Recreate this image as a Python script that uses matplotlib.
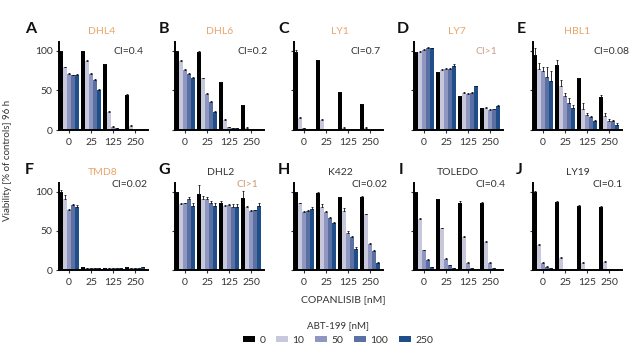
import matplotlib
matplotlib.use("Agg")
import matplotlib.pyplot as plt
import numpy as np
from matplotlib.patches import Patch

plt.rcParams["font.family"] = ["Lato", "DejaVu Sans"]

# ABT-199 doses (legend) and copanlisib doses (x groups)
abt_doses = ["0", "10", "50", "100", "250"]
copan_doses = ["0", "25", "125", "250"]
bar_colors = ["#000000", "#c8c8dc", "#8f97c0", "#5a70a2", "#1f4e88"]

# viability [% of controls], rows = copanlisib dose, cols = ABT-199 dose
DHL4 = [[100, 79, 71, 69, 70], [100, 87, 71, 63, 51], [83, 23, 4, 2, 1], [44, 5, 0, 0, 0]]
DHL6 = [[100, 87, 76, 71, 66], [99, 65, 46, 35, 23], [60, 13, 4, 2, 2], [31, 3, 1, 1, 1]]
LY1 = [[98, 15, 2, 0, 0], [88, 13, 1, 0, 0], [48, 3, 0, 0, 0], [33, 3, 0, 0, 0]]
LY7 = [[98, 99, 101, 104, 103], [73, 76, 77, 77, 81], [43, 47, 46, 47, 55], [28, 28, 25, 26, 30]]
HBL1 = [[94, 77, 74, 67, 62], [82, 55, 43, 34, 28], [65, 26, 19, 16, 11], [42, 18, 11, 11, 6]]
TMD8 = [[99, 90, 77, 83, 80], [4, 3, 2, 2, 2], [3, 2, 3, 2, 2], [4, 3, 3, 3, 4]]
DHL2 = [[100, 84, 85, 90, 82], [97, 91, 90, 86, 82], [85, 82, 83, 81, 81], [92, 81, 75, 76, 82]]
K422 = [[100, 85, 74, 75, 78], [98, 81, 74, 66, 60], [93, 75, 47, 42, 27], [93, 71, 33, 24, 9]]
TOLEDO = [[99, 65, 25, 13, 4], [90, 53, 14, 6, 2], [86, 42, 9, 3, 1], [85, 36, 9, 3, 1]]
LY19 = [[99, 32, 9, 4, 2], [87, 15, 1, 1, 0], [82, 9, 0, 0, 0], [81, 10, 0, 0, 0]]

# upper error bars
DHL4_err = [[0, 1, 1, 1, 1], [0, 1, 1, 1, 1], [0, 1, 1, 0, 0], [1, 1, 0, 0, 0]]
DHL6_err = [[0, 1, 1, 1, 1], [1, 1, 1, 1, 1], [1, 1, 0, 0, 0], [1, 1, 0, 0, 0]]
LY1_err = [[3, 1, 0, 0, 0], [0, 1, 0, 0, 0], [0, 1, 0, 0, 0], [0, 1, 0, 0, 0]]
LY7_err = [[0, 1, 1, 1, 1], [0, 1, 1, 1, 2], [0, 1, 1, 1, 1], [0, 1, 1, 1, 1]]
HBL1_err = [[10, 8, 6, 12, 12], [6, 8, 4, 6, 4], [1, 8, 3, 2, 1], [2, 3, 3, 2, 3]]
TMD8_err = [[3, 6, 1, 1, 3], [0, 0, 0, 0, 0], [0, 0, 0, 0, 0], [0, 0, 0, 0, 0]]
DHL2_err = [[0, 1, 1, 3, 3], [12, 3, 3, 2, 4], [3, 1, 1, 3, 3], [9, 1, 1, 1, 4]]
K422_err = [[0, 1, 1, 1, 3], [1, 3, 1, 1, 1], [0, 4, 3, 1, 2], [1, 1, 2, 1, 1]]
TOLEDO_err = [[1, 1, 1, 1, 0], [1, 1, 1, 0, 0], [2, 1, 1, 0, 0], [2, 1, 1, 0, 0]]
LY19_err = [[2, 1, 1, 1, 0], [1, 1, 0, 0, 0], [1, 1, 0, 0, 0], [1, 1, 0, 0, 0]]

panel_letters = ["A", "B", "C", "D", "E", "F", "G", "H", "I", "J"]
cell_lines = ["DHL4", "DHL6", "LY1", "LY7", "HBL1", "TMD8", "DHL2", "K422", "TOLEDO", "LY19"]
panel_values = [DHL4, DHL6, LY1, LY7, HBL1, TMD8, DHL2, K422, TOLEDO, LY19]
panel_errors = [DHL4_err, DHL6_err, LY1_err, LY7_err, HBL1_err,
                TMD8_err, DHL2_err, K422_err, TOLEDO_err, LY19_err]
ci_labels = ["CI=0.4", "CI=0.2", "CI=0.7", "CI>1", "CI=0.08",
             "CI=0.02", "CI>1", "CI=0.02", "CI=0.4", "CI=0.1"]

ORANGE = "#e8a468"
GRAY = "#333333"
title_colors = [ORANGE] * 6 + [GRAY] * 4
ci_colors = [GRAY, GRAY, GRAY, "#c8a08c", GRAY, GRAY, "#d09a6c", GRAY, GRAY, GRAY]

W, H = 640, 360
fig = plt.figure(figsize=(6.4, 3.6), dpi=100)


def fx(px):
    return px / W


def fy(py):
    return 1 - py / H


# layout in pixels of the 640x360 picture
ax_left = [59, 175, 294, 414, 533]
ax_width = 89
row_top = [42, 183]
row_bottom = [130, 270]
letter_x = [[25, 159, 278, 397, 517], [25, 158, 278, 399, 516]]
letter_y = [29, 170]
title_x = [102, 220, 340, 457, 577, 103, 221, 340, 458, 578]
title_y = [32, 172]
ci_x = [143, 268, 381, 497, 629, 148, 258, 387, 505, 623]
ci_y = [51, 51, 51, 51, 51, 185, 185, 185, 185, 185]

offsets = (np.arange(5) - 2) * 0.18
bar_w = 0.16
groups = np.arange(len(copan_doses))

for i, name in enumerate(cell_lines):
    row, col = divmod(i, 5)
    ax = fig.add_axes([fx(ax_left[col]), fy(row_bottom[row]), fx(ax_width),
                       (row_bottom[row] - row_top[row]) / H])
    vals = np.array(panel_values[i])
    errs = np.array(panel_errors[i])
    for k in range(5):
        ax.bar(groups + offsets[k], vals[:, k], width=bar_w + (0.03 if k == 0 else 0),
               color=bar_colors[k], linewidth=0,
               yerr=[np.zeros(4), errs[:, k]], capsize=1,
               error_kw=dict(elinewidth=0.6, capthick=0.6, ecolor="#111111"))
    ax.set_xlim(-0.46, 3.58)
    ax.set_ylim(0, 111)
    ax.set_xticks(groups)
    ax.set_xticklabels(copan_doses)
    ax.set_yticks([0, 50, 100])
    if col == 0:
        ax.set_yticklabels(["0", "50", "100"])
    else:
        ax.set_yticklabels([])
    for s in ["top", "right"]:
        ax.spines[s].set_visible(False)
    for s in ["left", "bottom"]:
        ax.spines[s].set_linewidth(1.4)
    ax.tick_params(direction="out", length=2.5, width=0.8, labelsize=7.5,
                   colors=GRAY, pad=2)
    ax.tick_params(axis="x", pad=3)

    fig.text(fx(letter_x[row][col]), fy(letter_y[row]), panel_letters[i],
             fontsize=11.5, fontweight="bold", va="center", ha="left", color="#111111")
    fig.text(fx(title_x[i]), fy(title_y[row]), name, fontsize=7.5,
             color=title_colors[i], ha="center", va="center")
    fig.text(fx(ci_x[i]), fy(ci_y[i]), ci_labels[i], fontsize=7.5,
             color=ci_colors[i], ha="right", va="center")

fig.text(fx(8), fy(160), "Viability [% of controls] 96 h", rotation=90,
         fontsize=7, color=GRAY, ha="center", va="center")
fig.text(fx(343), fy(300), "COPANLISIB [nM]", fontsize=7.5, color=GRAY,
         ha="center", va="center")

handles = [Patch(facecolor=c, edgecolor="none") for c in bar_colors]
leg = fig.legend(handles, abt_doses, title="ABT-199 [nM]", ncol=5,
                 loc="center", bbox_to_anchor=(fx(338), fy(333)),
                 frameon=False, fontsize=7.5, title_fontsize=7,
                 handlelength=1.2, handleheight=0.6, columnspacing=1.0,
                 handletextpad=0.4)
for t in leg.get_texts():
    t.set_color(GRAY)
leg.get_title().set_color(GRAY)

fig.savefig("out.png", dpi=100)
